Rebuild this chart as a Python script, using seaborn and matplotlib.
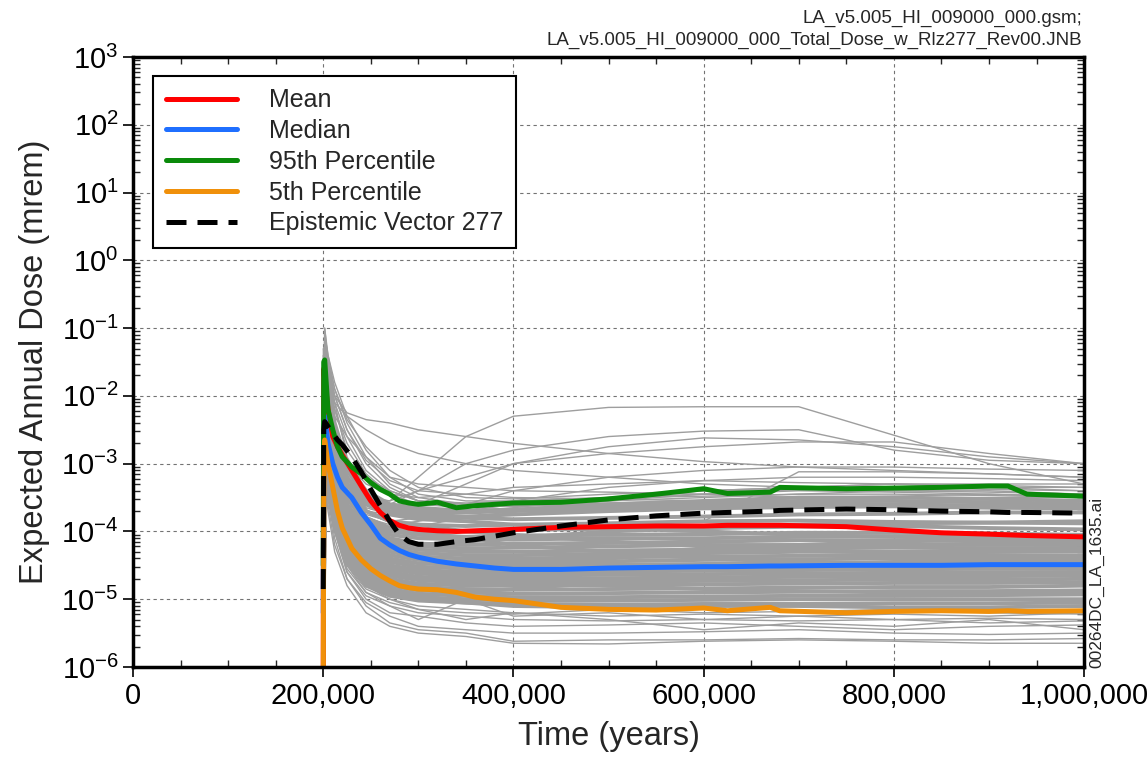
import numpy as np
import pandas as pd
import matplotlib
matplotlib.use("Agg")
import matplotlib.pyplot as plt
import matplotlib.ticker as mticker
import seaborn as sns

# --- data (dose values stored as log10(mrem)) ---
T_GRAY = [200000, 201500, 205000, 212000, 225000, 245000, 270000, 300000,
          350000, 400000, 500000, 600000, 700000, 800000, 900000, 1000000]

# realizations inside the dense core of the distribution
GRAY_CORE_LOG = [
    [-7, -1.6, -2.0, -2.5, -3.0, -3.4, -3.6, -3.65, -3.7, -3.68, -3.62, -3.58, -3.55, -3.55, -3.57, -3.6],
    [-7, -1.8, -2.2, -2.7, -3.2, -3.55, -3.7, -3.75, -3.78, -3.75, -3.7, -3.66, -3.64, -3.63, -3.65, -3.66],
    [-7, -1.5, -2.1, -2.6, -3.3, -3.6, -3.72, -3.8, -3.8, -3.82, -3.8, -3.78, -3.75, -3.74, -3.72, -3.72],
    [-7, -2.0, -2.3, -2.8, -3.3, -3.7, -3.85, -3.9, -3.92, -3.9, -3.88, -3.85, -3.84, -3.86, -3.87, -3.88],
    [-7, -1.9, -2.4, -2.9, -3.45, -3.8, -3.95, -4.0, -4.0, -3.98, -3.96, -3.95, -3.93, -3.92, -3.95, -3.97],
    [-7, -2.1, -2.5, -3.0, -3.5, -3.85, -4.0, -4.05, -4.08, -4.06, -4.05, -4.04, -4.02, -4.02, -4.03, -4.05],
    [-7, -1.7, -2.3, -2.9, -3.5, -3.9, -4.05, -4.1, -4.12, -4.12, -4.1, -4.1, -4.08, -4.07, -4.08, -4.1],
    [-7, -2.2, -2.6, -3.1, -3.6, -3.95, -4.1, -4.18, -4.2, -4.18, -4.17, -4.15, -4.13, -4.13, -4.14, -4.15],
    [-7, -2.0, -2.5, -3.1, -3.65, -4.0, -4.15, -4.22, -4.25, -4.24, -4.22, -4.2, -4.2, -4.2, -4.18, -4.2],
    [-7, -2.3, -2.7, -3.2, -3.7, -4.05, -4.2, -4.27, -4.3, -4.3, -4.28, -4.27, -4.25, -4.24, -4.25, -4.25],
    [-7, -1.8, -2.5, -3.2, -3.75, -4.1, -4.25, -4.32, -4.35, -4.35, -4.33, -4.32, -4.3, -4.3, -4.3, -4.3],
    [-7, -2.4, -2.8, -3.3, -3.8, -4.15, -4.3, -4.37, -4.4, -4.4, -4.38, -4.37, -4.36, -4.35, -4.35, -4.36],
    [-7, -2.1, -2.7, -3.3, -3.85, -4.2, -4.35, -4.42, -4.45, -4.45, -4.44, -4.42, -4.41, -4.4, -4.4, -4.4],
    [-7, -2.5, -2.9, -3.4, -3.9, -4.25, -4.4, -4.47, -4.5, -4.5, -4.49, -4.48, -4.47, -4.46, -4.46, -4.45],
    [-7, -2.2, -2.8, -3.4, -3.95, -4.3, -4.45, -4.52, -4.55, -4.55, -4.54, -4.53, -4.52, -4.51, -4.5, -4.5],
    [-7, -2.6, -3.0, -3.5, -4.0, -4.35, -4.5, -4.57, -4.6, -4.6, -4.59, -4.58, -4.57, -4.56, -4.55, -4.55],
    [-7, -2.3, -2.9, -3.5, -4.05, -4.4, -4.55, -4.62, -4.65, -4.65, -4.64, -4.63, -4.62, -4.61, -4.6, -4.6],
    [-7, -2.7, -3.1, -3.6, -4.1, -4.45, -4.6, -4.67, -4.7, -4.7, -4.69, -4.68, -4.67, -4.66, -4.66, -4.65],
    [-7, -2.4, -3.0, -3.6, -4.15, -4.5, -4.65, -4.72, -4.75, -4.75, -4.74, -4.73, -4.72, -4.71, -4.71, -4.7],
    [-7, -2.8, -3.2, -3.7, -4.2, -4.55, -4.7, -4.77, -4.8, -4.8, -4.79, -4.78, -4.77, -4.76, -4.76, -4.75],
    [-7, -2.5, -3.1, -3.7, -4.25, -4.6, -4.75, -4.82, -4.85, -4.86, -4.85, -4.84, -4.83, -4.82, -4.82, -4.8],
    [-7, -2.9, -3.3, -3.8, -4.3, -4.65, -4.8, -4.87, -4.9, -4.92, -4.91, -4.9, -4.89, -4.88, -4.88, -4.87],
    [-7, -2.6, -3.2, -3.8, -4.35, -4.7, -4.85, -4.92, -4.95, -4.97, -4.97, -4.96, -4.95, -4.95, -4.94, -4.93],
    [-7, -3.0, -3.4, -3.9, -4.4, -4.75, -4.9, -4.97, -5.0, -5.02, -5.02, -5.01, -5.0, -5.0, -5.0, -5.0],
    [-7, -2.7, -3.3, -3.9, -4.45, -4.8, -4.95, -5.02, -5.05, -5.07, -5.08, -5.07, -5.07, -5.06, -5.06, -5.05],
    [-7, -1.9, -2.4, -3.0, -3.6, -4.1, -4.4, -4.55, -4.5, -4.45, -4.35, -4.25, -4.2, -4.15, -4.12, -4.1],
    [-7, -2.0, -2.3, -2.8, -3.4, -3.8, -3.95, -4.0, -4.1, -4.2, -4.3, -4.4, -4.45, -4.48, -4.5, -4.52],
    [-7, -2.2, -2.7, -3.3, -3.9, -4.3, -4.6, -4.7, -4.6, -4.5, -4.4, -4.3, -4.25, -4.2, -4.2, -4.2],
    [-7, -1.7, -2.2, -2.7, -3.3, -3.7, -3.85, -3.9, -4.0, -4.05, -4.15, -4.2, -4.28, -4.32, -4.35, -4.38],
    [-7, -2.5, -2.9, -3.5, -4.1, -4.5, -4.7, -4.8, -4.75, -4.7, -4.6, -4.55, -4.5, -4.45, -4.42, -4.4],
    [-7, -2.3, -2.8, -3.4, -4.0, -4.4, -4.55, -4.6, -4.65, -4.7, -4.8, -4.85, -4.88, -4.9, -4.9, -4.9],
    [-7, -2.1, -2.6, -3.1, -3.7, -4.0, -4.15, -4.2, -4.15, -4.1, -4.0, -3.95, -3.9, -3.88, -3.87, -3.85],
    [-7, -2.6, -3.0, -3.6, -4.2, -4.6, -4.85, -4.95, -4.9, -4.85, -4.75, -4.7, -4.65, -4.65, -4.62, -4.6],
    [-7, -1.6, -2.1, -2.6, -3.2, -3.6, -3.75, -3.82, -3.85, -3.9, -3.95, -4.0, -4.05, -4.08, -4.1, -4.12],
    [-7, -2.4, -2.9, -3.5, -4.05, -4.45, -4.6, -4.68, -4.7, -4.66, -4.6, -4.56, -4.52, -4.5, -4.48, -4.46],
    [-7, -1.4, -1.9, -2.5, -3.1, -3.5, -3.65, -3.72, -3.72, -3.7, -3.66, -3.62, -3.6, -3.6, -3.62, -3.64],
    [-7, -1.3, -1.8, -2.4, -3.0, -3.45, -3.62, -3.68, -3.7, -3.68, -3.6, -3.55, -3.5, -3.5, -3.52, -3.55],
    [-7, -2.8, -3.3, -3.85, -4.4, -4.75, -4.92, -5.0, -5.05, -5.1, -5.12, -5.1, -5.1, -5.12, -5.12, -5.1],
]

# realizations outside the core (drawn thin)
GRAY_OUTER_LOG = [
    # low
    [-7, -2.8, -3.3, -3.9, -4.5, -4.85, -5.0, -5.1, -5.15, -5.2, -5.25, -5.22, -5.25, -5.22, -5.25, -5.2],
    [-7, -3.0, -3.5, -4.0, -4.6, -4.95, -5.1, -5.2, -5.25, -5.3, -5.32, -5.3, -5.32, -5.3, -5.28, -5.3],
    [-7, -2.9, -3.4, -4.0, -4.6, -5.0, -5.2, -5.25, -5.35, -5.4, -5.38, -5.35, -5.4, -5.45, -5.4, -5.38],
    [-7, -3.1, -3.6, -4.2, -4.7, -5.05, -5.25, -5.4, -5.45, -5.5, -5.5, -5.48, -5.45, -5.5, -5.52, -5.5],
    [-7, -3.0, -3.5, -4.1, -4.7, -5.1, -5.35, -5.45, -5.5, -5.62, -5.6, -5.6, -5.58, -5.6, -5.6, -5.58],
    [-7, -2.7, -3.2, -3.8, -4.4, -4.8, -5.0, -5.15, -5.3, -5.2, -5.3, -5.45, -5.35, -5.4, -5.3, -5.45],
    [-7, -2.8, -3.3, -3.9, -4.5, -4.9, -5.1, -5.3, -5.0, -5.25, -5.2, -5.3, -5.25, -5.3, -5.35, -5.32],
    [-7, -3.2, -3.7, -4.3, -4.8, -5.2, -5.4, -5.5, -5.55, -5.65, -5.66, -5.62, -5.6, -5.62, -5.65, -5.65],
    [-7, -2.9, -3.4, -4.0, -4.55, -4.9, -5.05, -5.15, -5.2, -5.22, -5.15, -5.2, -5.18, -5.15, -5.2, -5.22],
    # high
    [-7, -1.2, -1.8, -2.5, -3.1, -3.5, -3.55, -3.2, -2.6, -2.3, -2.17, -2.16, -2.16, -2.58, -3.0, -3.3],
    [-7, -1.1, -1.6, -2.0, -2.25, -2.35, -2.4, -2.5, -2.6, -2.7, -2.85, -2.97, -3.05, -3.1, -3.15, -3.2],
    [-7, -1.5, -2.0, -2.7, -3.3, -3.6, -3.6, -3.4, -3.0, -2.8, -2.6, -2.52, -2.5, -2.8, -2.95, -3.0],
    [-7, -1.7, -2.2, -2.9, -3.4, -3.7, -3.75, -3.6, -3.3, -3.0, -2.75, -2.62, -2.65, -2.75, -2.9, -3.0],
    [-7, -1.4, -1.9, -2.6, -3.2, -3.5, -3.55, -3.4, -3.2, -3.0, -2.85, -2.75, -2.68, -2.68, -2.85, -3.0],
    [-7, -1.3, -1.7, -2.1, -2.3, -2.5, -2.7, -2.85, -3.0, -3.1, -3.2, -3.3, -3.35, -3.35, -3.38, -3.4],
    [-7, -1.6, -2.1, -2.8, -3.4, -3.75, -3.85, -3.8, -3.6, -3.4, -3.2, -3.1, -3.05, -3.05, -3.08, -3.1],
    [-7, -1.8, -2.3, -3.0, -3.5, -3.8, -3.9, -3.85, -3.7, -3.55, -3.35, -3.25, -3.2, -3.2, -3.22, -3.25],
    [-7, -1.9, -2.4, -3.0, -3.55, -3.85, -3.95, -3.92, -3.8, -3.7, -3.55, -3.45, -3.38, -3.35, -3.35, -3.35],
    [-7, -1.5, -2.0, -2.7, -3.3, -3.65, -3.75, -3.75, -3.7, -3.6, -3.5, -3.4, -3.35, -3.3, -3.3, -3.3],
    [-7, -2.0, -2.5, -3.1, -3.6, -3.9, -4.0, -4.0, -4.0, -3.95, -3.9, -3.85, -3.12, -3.12, -3.15, -3.2],
    [-7, -1.2, -1.6, -2.2, -2.8, -3.2, -3.4, -3.55, -3.6, -3.6, -3.55, -3.5, -3.45, -3.4, -3.4, -3.45],
    [-7, -1.0, -1.5, -2.1, -2.9, -3.4, -3.6, -3.7, -3.7, -3.65, -3.5, -3.4, -3.35, -3.3, -3.32, -3.35],
    [-7, -1.1, -1.7, -2.3, -2.6, -2.9, -3.2, -3.3, -3.35, -3.4, -3.42, -3.45, -3.5, -3.48, -3.45, -3.5],
    [-7, -1.4, -2.0, -2.6, -3.0, -3.3, -3.45, -3.5, -3.45, -3.35, -3.3, -3.25, -3.28, -3.3, -3.35, -3.4],
    # slow early decay (fan above the 95th percentile)
    [-7, -1.2, -1.5, -1.9, -2.4, -2.9, -3.3, -3.5, -3.6, -3.6, -3.58, -3.55, -3.55, -3.52, -3.5, -3.5],
    [-7, -1.3, -1.6, -2.0, -2.5, -3.0, -3.35, -3.55, -3.62, -3.63, -3.6, -3.58, -3.56, -3.55, -3.56, -3.58],
    [-7, -1.1, -1.4, -1.8, -2.3, -2.8, -3.2, -3.45, -3.55, -3.55, -3.5, -3.48, -3.45, -3.45, -3.47, -3.5],
    [-7, -1.4, -1.7, -2.1, -2.6, -3.1, -3.4, -3.55, -3.58, -3.55, -3.5, -3.45, -3.4, -3.42, -3.45, -3.48],
    [-7, -1.2, -1.5, -2.0, -2.5, -2.95, -3.25, -3.4, -3.45, -3.5, -3.52, -3.55, -3.58, -3.6, -3.6, -3.62],
    [-7, -1.5, -1.8, -2.2, -2.7, -3.15, -3.45, -3.6, -3.65, -3.62, -3.6, -3.6, -3.58, -3.56, -3.55, -3.55],
    [-7, -1.0, -1.4, -1.9, -2.35, -2.75, -3.1, -3.35, -3.5, -3.52, -3.45, -3.4, -3.38, -3.4, -3.42, -3.45],
]

T_STAT = [200000, 200500, 201500, 205000, 210000, 215000, 220000, 230000, 240000,
          250000, 260000, 270000, 280000, 290000, 300000, 320000, 340000, 360000,
          380000, 400000, 450000, 500000, 550000, 600000, 625000, 670000, 680000,
          750000, 800000, 850000, 900000, 920000, 940000, 1000000]

MEAN_LOG = [-6.0, -1.6, -1.75, -2.2, -2.6, -2.75, -2.87, -3.1, -3.33, -3.55, -3.72, -3.84,
            -3.91, -3.95, -3.97, -3.99, -4.0, -3.99, -3.98, -3.97, -3.94, -3.93, -3.92,
            -3.92, -3.91, -3.91, -3.91, -3.93, -3.98, -4.02, -4.04, -4.05, -4.06, -4.08]
MEDIAN_LOG = [-5.2, -2.4, -2.3, -2.7, -3.0, -3.2, -3.35, -3.5, -3.72, -3.9, -4.1, -4.2,
              -4.28, -4.34, -4.38, -4.44, -4.48, -4.51, -4.54, -4.56, -4.56, -4.54, -4.53,
              -4.52, -4.52, -4.51, -4.51, -4.5, -4.5, -4.5, -4.49, -4.49, -4.49, -4.49]
P95_LOG = [-4.5, -1.5, -1.47, -2.2, -2.5, -2.75, -2.9, -3.05, -3.15, -3.28, -3.38, -3.45,
           -3.55, -3.58, -3.6, -3.57, -3.65, -3.62, -3.6, -3.58, -3.57, -3.52, -3.45,
           -3.37, -3.44, -3.42, -3.35, -3.37, -3.36, -3.35, -3.33, -3.33, -3.45, -3.48]
P05_LOG = [-6.5, -3.5, -2.65, -3.0, -3.35, -3.7, -3.95, -4.25, -4.42, -4.55, -4.65, -4.73,
           -4.8, -4.83, -4.85, -4.86, -4.9, -4.97, -5.0, -5.02, -5.12, -5.15, -5.16,
           -5.13, -5.17, -5.12, -5.17, -5.2, -5.18, -5.17, -5.18, -5.17, -5.18, -5.17]
EPI_LOG = [-4.85, -2.5, -2.38, -2.45, -2.55, -2.65, -2.72, -2.9, -3.12, -3.38, -3.62, -3.85,
           -4.05, -4.15, -4.19, -4.19, -4.15, -4.12, -4.07, -4.02, -3.92, -3.83, -3.77,
           -3.73, -3.72, -3.7, -3.69, -3.67, -3.68, -3.7, -3.71, -3.72, -3.72, -3.73]

STAT_LABELS = ["Mean", "Median", "95th Percentile", "5th Percentile", "Epistemic Vector 277"]
STAT_COLORS = ["#ff0000", "#1f6fff", "#0a8a0a", "#f0900a", "black"]


def to_long(rows):
    return pd.DataFrame([
        {"time": t, "dose": 10.0 ** v, "rlz": i}
        for i, row in enumerate(rows) for t, v in zip(T_GRAY, row)
    ])


core_df = to_long(GRAY_CORE_LOG)
outer_df = to_long(GRAY_OUTER_LOG)
stat_df = pd.DataFrame({"time": T_STAT})
for lab, vals in zip(STAT_LABELS, [MEAN_LOG, MEDIAN_LOG, P95_LOG, P05_LOG, EPI_LOG]):
    stat_df[lab] = 10.0 ** np.array(vals)

sns.set_theme(style="white")
plt.rcParams["font.family"] = ["Liberation Sans", "DejaVu Sans"]
plt.rcParams["mathtext.default"] = "regular"

fig = plt.figure(figsize=(11.48, 7.57), dpi=100)
ax = fig.add_axes([0.1159, 0.1189, 0.8284, 0.8058])
ax.set_yscale("log")

GRAY = "#9e9e9e"
sns.lineplot(data=outer_df, x="time", y="dose", units="rlz", estimator=None,
             color=GRAY, lw=1.0, ax=ax, legend=False)
sns.lineplot(data=core_df, x="time", y="dose", units="rlz", estimator=None,
             color=GRAY, lw=2.8, ax=ax, legend=False)

for lab, col in zip(STAT_LABELS, STAT_COLORS):
    if lab.startswith("Epistemic"):
        sns.lineplot(data=stat_df, x="time", y=lab, color=col, lw=3.6, ax=ax,
                     label=lab, linestyle=(0, (4, 2.2)))
    else:
        sns.lineplot(data=stat_df, x="time", y=lab, color=col, lw=3.6, ax=ax, label=lab,
                     solid_capstyle="round")

ax.set_xlim(0, 1000000)
ax.set_ylim(1e-6, 1e3)

# ticks
ax.xaxis.set_major_locator(mticker.MultipleLocator(200000))
ax.xaxis.set_minor_locator(mticker.MultipleLocator(50000))
ax.xaxis.set_major_formatter(mticker.FuncFormatter(lambda v, p: f"{v:,.0f}"))
ax.yaxis.set_major_locator(mticker.LogLocator(base=10, numticks=20))
ax.yaxis.set_minor_locator(mticker.LogLocator(base=10, subs=np.arange(2, 10), numticks=20))
ax.yaxis.set_minor_formatter(mticker.NullFormatter())
ax.tick_params(which="major", direction="out", length=7, width=1.2, labelsize=21,
               left=True, bottom=True, colors="black")
ax.tick_params(which="minor", direction="in", length=5, width=1, top=True, right=True,
               left=True, bottom=True)
ax.grid(which="major", ls=(0, (3, 3)), color="0.45", lw=0.8)
for s in ax.spines.values():
    s.set_linewidth(2.5)
    s.set_color("black")

ax.set_xlabel("Time (years)", fontsize=23.5, labelpad=8)
ax.set_ylabel("Expected Annual Dose (mrem)", fontsize=23.5, labelpad=8)

leg = ax.legend(loc="upper left", bbox_to_anchor=(0.021, 0.969), borderaxespad=0,
                fontsize=18, handlelength=2.85, handletextpad=1.3, labelspacing=0.27,
                fancybox=False, framealpha=1, edgecolor="black", borderpad=0.5)
leg.get_frame().set_linewidth(1.5)

fig.text(0.943, 0.976, "LA_v5.005_HI_009000_000.gsm;", ha="right", va="center", fontsize=13.5)
fig.text(0.943, 0.947, "LA_v5.005_HI_009000_000_Total_Dose_w_Rlz277_Rev00.JNB",
         ha="right", va="center", fontsize=13.5)
fig.text(0.9556, 0.118, "00264DC_LA_1635.ai", rotation=90, ha="center", va="bottom", fontsize=12.5)

fig.savefig("out.png", dpi=100)
